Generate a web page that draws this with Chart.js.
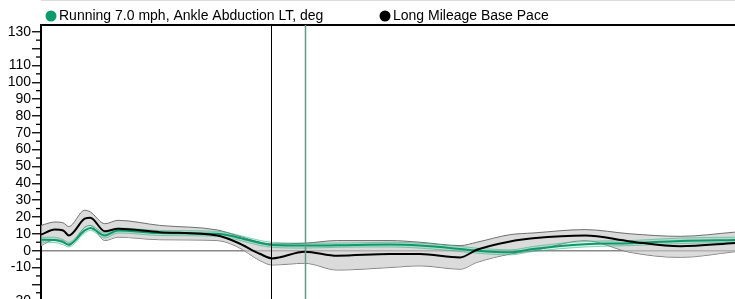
<!DOCTYPE html>
<html>
<head>
<meta charset="utf-8">
<script src="https://cdn.jsdelivr.net/npm/chart.js@4/dist/chart.umd.min.js"></script>
<style>
  html, body { margin: 0; padding: 0; background: #fff; overflow: hidden; }
  #wrap { width: 735px; height: 299px; overflow: hidden; }
</style>
</head>
<body>
<div id="wrap"><canvas id="abdChart" width="735" height="319"></canvas></div>
<script>
// % of cycle
const cycle = [0, 2.0, 3.2, 4.0, 6.3, 7.1, 9.2, 11.1, 17.1, 25.4, 28.2, 31.6, 33.3, 38.0, 42.7, 50.3, 54.6, 60.4, 62.8, 67.6, 70.9, 78.4, 84.9, 92.1, 100];

// Long Mileage Base Pace (mean and band)
const baseMean  = [9.5, 12.5, 12, 9, 19, 19.6, 11.5, 13, 11, 9, 5, -2, -4.6, -0.6, -3, -2, -2, -4, 0.5, 5.5, 7.3, 9, 5.5, 2.6, 4.6];
const baseUpper = [15, 17, 16.5, 14.3, 24, 23, 16, 18, 15, 12.3, 9, 5, 4, 4.4, 6, 6, 5, 3, 5, 9.5, 10.5, 12.5, 10, 8.5, 11];
const baseLower = [3, 6.5, 6, 3, 14, 15, 6, 8, 6.5, 6, 2.5, -6, -8.5, -7.5, -11.5, -10, -9, -11, -7, -2, 0, 6, -1, -4, -0.6];

// Running 7.0 mph (mean and band)
const runMean  = [6.5, 6.4, 5, 3.6, 12, 13.5, 9, 12, 10.5, 10, 8, 4.5, 3.4, 3, 3.2, 3.6, 3, 1, 0, -1, 1, 3.8, 4.4, 5.8, 6.4];
const runUpper = [8, 8, 6.5, 5, 13.5, 15, 10.5, 13.5, 12, 11.5, 9.5, 6, 5, 4.5, 4.5, 5, 4.5, 2.5, 1.5, 0.5, 2.5, 5.5, 6, 7.5, 8];
const runLower = [5, 4.8, 3.5, 2.2, 10.5, 12, 7.5, 10.5, 9, 8.5, 6.5, 3, 2, 1.5, 2, 2.2, 1.5, -0.5, -1.5, -2.5, -0.5, 2.2, 3, 4.2, 5];

// event markers (% of cycle)
const events = [33.14, 38.04];
const eventColors = ["#000000", "#5e9a86"];

const yTickLabels = [130, 110, 100, 90, 80, 70, 60, 50, 40, 30, 20, 10, 0, -10, -30];

const GREEN = "#0a9a6c";
const FONT = "'Liberation Sans', Arial, sans-serif";

function pts(vals) {
  return vals.map((v, i) => ({ x: cycle[i], y: v }));
}

const overlay = {
  id: "overlay",
  afterDraw(chart) {
    const ctx = chart.ctx;
    const area = chart.chartArea;
    const xs = chart.scales.x;
    const ys = chart.scales.y;
    ctx.save();

    // light frame line at very top
    ctx.strokeStyle = "#dddddd";
    ctx.lineWidth = 1;
    ctx.beginPath();
    ctx.moveTo(area.left, 0.5);
    ctx.lineTo(area.right, 0.5);
    ctx.stroke();

    // top border
    ctx.strokeStyle = "#000";
    ctx.lineWidth = 2;
    ctx.beginPath();
    ctx.moveTo(area.left - 1, area.top);
    ctx.lineTo(area.right, area.top);
    ctx.stroke();

    // minor ticks
    ctx.lineWidth = 1.3;
    ys.ticks.forEach(t => {
      if (t.value % 10 !== 0) {
        const py = ys.getPixelForValue(t.value);
        ctx.beginPath();
        ctx.moveTo(area.left - 5, py);
        ctx.lineTo(area.left, py);
        ctx.stroke();
      }
    });

    // event lines
    events.forEach((e, i) => {
      const px = Math.round(xs.getPixelForValue(e)) + 0.5;
      ctx.strokeStyle = eventColors[i];
      ctx.lineWidth = i === 0 ? 1 : 1.5;
      ctx.beginPath();
      ctx.moveTo(px, area.top);
      ctx.lineTo(px, area.bottom);
      ctx.stroke();
    });

    // legend
    ctx.font = "14px " + FONT;
    ctx.textBaseline = "middle";
    ctx.textAlign = "left";
    ctx.fillStyle = GREEN;
    ctx.beginPath();
    ctx.arc(51, 16, 5.5, 0, Math.PI * 2);
    ctx.fill();
    ctx.fillStyle = "#000";
    ctx.fillText("Running 7.0 mph, Ankle Abduction LT, deg", 59, 16);
    ctx.beginPath();
    ctx.arc(385, 16, 5.5, 0, Math.PI * 2);
    ctx.fill();
    ctx.fillText("Long Mileage Base Pace", 393, 16);

    ctx.restore();
  }
};

const line = { pointRadius: 0, cubicInterpolationMode: "monotone" };

new Chart(document.getElementById("abdChart"), {
  type: "line",
  data: {
    datasets: [
      Object.assign({ label: "Long Mileage Base Pace", data: pts(baseMean), borderColor: "#000", borderWidth: 2, fill: false }, line),
      Object.assign({ label: "Running 7.0 mph, Ankle Abduction LT, deg", data: pts(runMean), borderColor: GREEN, borderWidth: 2, fill: false }, line),
      Object.assign({ label: "run upper", data: pts(runUpper), borderColor: "rgba(40,180,130,0.55)", borderWidth: 1, fill: "+1", backgroundColor: "rgba(60,190,140,0.18)" }, line),
      Object.assign({ label: "run lower", data: pts(runLower), borderColor: "rgba(40,180,130,0.55)", borderWidth: 1, fill: false }, line),
      Object.assign({ label: "base upper", data: pts(baseUpper), borderColor: "#6f6f6f", borderWidth: 1, fill: "+1", backgroundColor: "rgba(200,200,200,0.65)" }, line),
      Object.assign({ label: "base lower", data: pts(baseLower), borderColor: "#6f6f6f", borderWidth: 1, fill: false }, line)
    ]
  },
  options: {
    responsive: false,
    animation: false,
    devicePixelRatio: 1,
    layout: { padding: { top: 25, left: 0, right: 0, bottom: 0 } },
    plugins: { legend: { display: false }, tooltip: { enabled: false } },
    scales: {
      x: { type: "linear", min: 0, max: 100, display: false },
      y: {
        min: -35,
        max: 134,
        afterFit(scale) { scale.width = 41; },
        border: { display: true, color: "#000", width: 2 },
        grid: {
          drawOnChartArea: true,
          drawTicks: true,
          tickLength: 9,
          tickWidth: 1.3,
          lineWidth: 1.5,
          color: c => (c.tick && c.tick.value === 0 ? "#8a8a8a" : "rgba(0,0,0,0)"),
          tickColor: c => (c.tick && c.tick.value % 10 === 0 ? "#000" : "rgba(0,0,0,0)")
        },
        ticks: {
          stepSize: 5,
          includeBounds: false,
          autoSkip: false,
          padding: 1,
          color: "#000",
          font: { family: FONT, size: 14 },
          callback: v => (yTickLabels.includes(v) ? String(v) : "")
        }
      }
    }
  },
  plugins: [overlay]
});
</script>
</body>
</html>
